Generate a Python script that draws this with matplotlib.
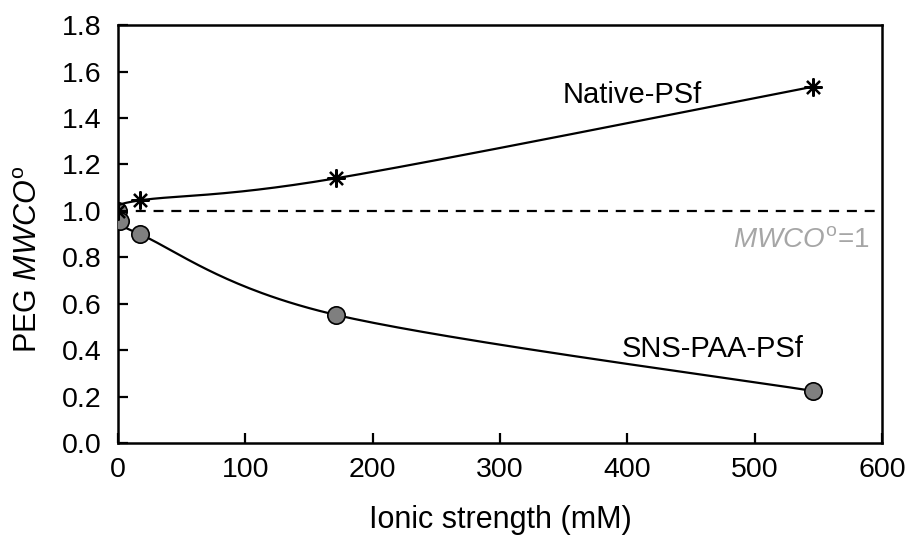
import numpy as np
import matplotlib
matplotlib.use("Agg")
import matplotlib.pyplot as plt

plt.rcParams['font.family'] = ['Liberation Sans', 'DejaVu Sans']
plt.rcParams['mathtext.fontset'] = 'custom'
plt.rcParams['mathtext.rm'] = 'Liberation Sans'
plt.rcParams['mathtext.it'] = 'Liberation Sans:italic'

# Ionic strength (mM) and normalised PEG MWCO for each membrane
native_x = [0, 17, 171, 546]
native_y = [1.00, 1.045, 1.14, 1.535]
sns_x = [0, 1.7, 17, 171, 546]
sns_y = [1.00, 0.955, 0.90, 0.552, 0.224]

x_ticks = [0, 100, 200, 300, 400, 500, 600]
y_ticks = [0.0, 0.2, 0.4, 0.6, 0.8, 1.0, 1.2, 1.4, 1.6, 1.8]
reference_level = 1.0

TICK_FS = 20.5
LABEL_FS = 22
NOTE_FS = 21


def smooth_curve(xs, ys, n=60):
    """Piecewise cubic Bezier through the points (spreadsheet-style smoothing)."""
    p = np.column_stack([xs, ys]).astype(float)
    out = []
    for i in range(len(p) - 1):
        p0 = p[i - 1] if i > 0 else p[i]
        p1, p2 = p[i], p[i + 1]
        p3 = p[i + 2] if i + 2 < len(p) else p[i + 1]
        c1 = p1 + (p2 - p0) / 6.0
        c2 = p2 - (p3 - p1) / 6.0
        t = np.linspace(0, 1, n)[:, None]
        seg = ((1 - t) ** 3) * p1 + 3 * ((1 - t) ** 2) * t * c1 + 3 * (1 - t) * t ** 2 * c2 + t ** 3 * p2
        out.append(seg if i == 0 else seg[1:])
    seg = np.vstack(out)
    return seg[:, 0], seg[:, 1]


fig = plt.figure(figsize=(9.09, 5.35), dpi=100)
ax = fig.add_axes([0.1298, 0.172, 0.8405, 0.781])

ax.axhline(reference_level, color='black', lw=1.6, ls=(0, (4.5, 3.5)), zorder=1)

sx, sy = smooth_curve(sns_x, sns_y)
ax.plot(sx, sy, color='black', lw=1.6, zorder=2)
ax.plot(sns_x, sns_y, ls='none', marker='o', ms=12.5, mfc='#7f7f7f', mec='black', mew=1.2, zorder=3)

nx, ny = smooth_curve(native_x, native_y)
ax.plot(nx, ny, color='black', lw=1.6, zorder=4)
ax.plot(native_x, native_y, ls='none', marker=(8, 2, 0), ms=13, mec='black', mew=1.6, zorder=5)

ax.text(404, 1.50, 'Native-PSf', fontsize=NOTE_FS, ha='center', va='center')
ax.text(467, 0.405, 'SNS-PAA-PSf', fontsize=NOTE_FS, ha='center', va='center')
ax.text(590, 0.876, r'$\mathit{MWCO}^{\mathrm{o}}$=1', fontsize=20, ha='right', va='center',
        color='#a6a6a6')

ax.set_xlim(0, 600)
ax.set_ylim(0, 1.8)
ax.set_xticks(x_ticks)
ax.set_yticks(y_ticks)
ax.set_yticklabels([f'{v:.1f}' for v in y_ticks])
ax.tick_params(direction='in', length=7, width=1.6, labelsize=TICK_FS)
ax.tick_params(axis='y', pad=12)
ax.tick_params(axis='x', pad=10)
for s in ax.spines.values():
    s.set_linewidth(1.8)

ax.set_xlabel('Ionic strength (mM)', fontsize=LABEL_FS)
ax.set_ylabel(r'PEG $\mathit{MWCO}^{\mathrm{o}}$', fontsize=LABEL_FS)
ax.xaxis.set_label_coords(0.5, -0.148)
ax.yaxis.set_label_coords(-0.097, 0.44)

fig.savefig('out.png', dpi=100)
